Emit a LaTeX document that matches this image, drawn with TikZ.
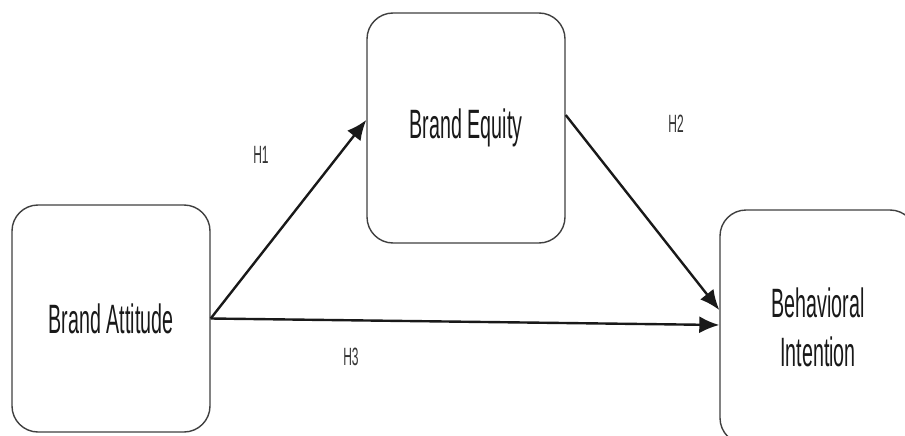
\documentclass[tikz,border=0pt]{standalone}
\usepackage{fontspec}
\setmainfont{Liberation Sans}[FakeStretch=0.48]
\usetikzlibrary{arrows.meta}

\tikzset{
  construct/.style={draw=black!75, line width=1.4pt, rounded corners=26pt,
    fill=white, align=center, text=black!90,
    font=\fontsize{41}{49}\selectfont},
  hyp/.style={text=black!80, font=\fontsize{25}{28}\selectfont},
  path/.style={->, line width=2.4pt, black!90}
}

\begin{document}
\begin{tikzpicture}[x=1pt, y=-1pt, >={Latex[length=20pt,width=17pt]}]
  \useasboundingbox (0,0) rectangle (905,436);
  % the three constructs
  \node[construct, minimum width=198pt, minimum height=227pt] (attitude) at (111,318.5) {Brand Attitude};
  \node[construct, minimum width=198pt, minimum height=230pt] (equity) at (466,128) {Brand Equity};
  \node[construct, minimum width=196pt, minimum height=234pt] (intention) at (818,327) {Behavioral\\Intention};
  % hypothesised paths
  \draw[path] (attitude.east) -- ([yshift=8pt]equity.west);
  \draw[path] ([yshift=13pt]equity.east) -- ([yshift=17pt]intention.west);
  \draw[path] (attitude.east) -- ([yshift=2pt]intention.west);
  % path labels
  \node[hyp] (h1) at (261,155) {H1};
  \node[hyp] (h2) at (676,124) {H2};
  \node[hyp] (h3) at (351,357) {H3};
\end{tikzpicture}
\end{document}
